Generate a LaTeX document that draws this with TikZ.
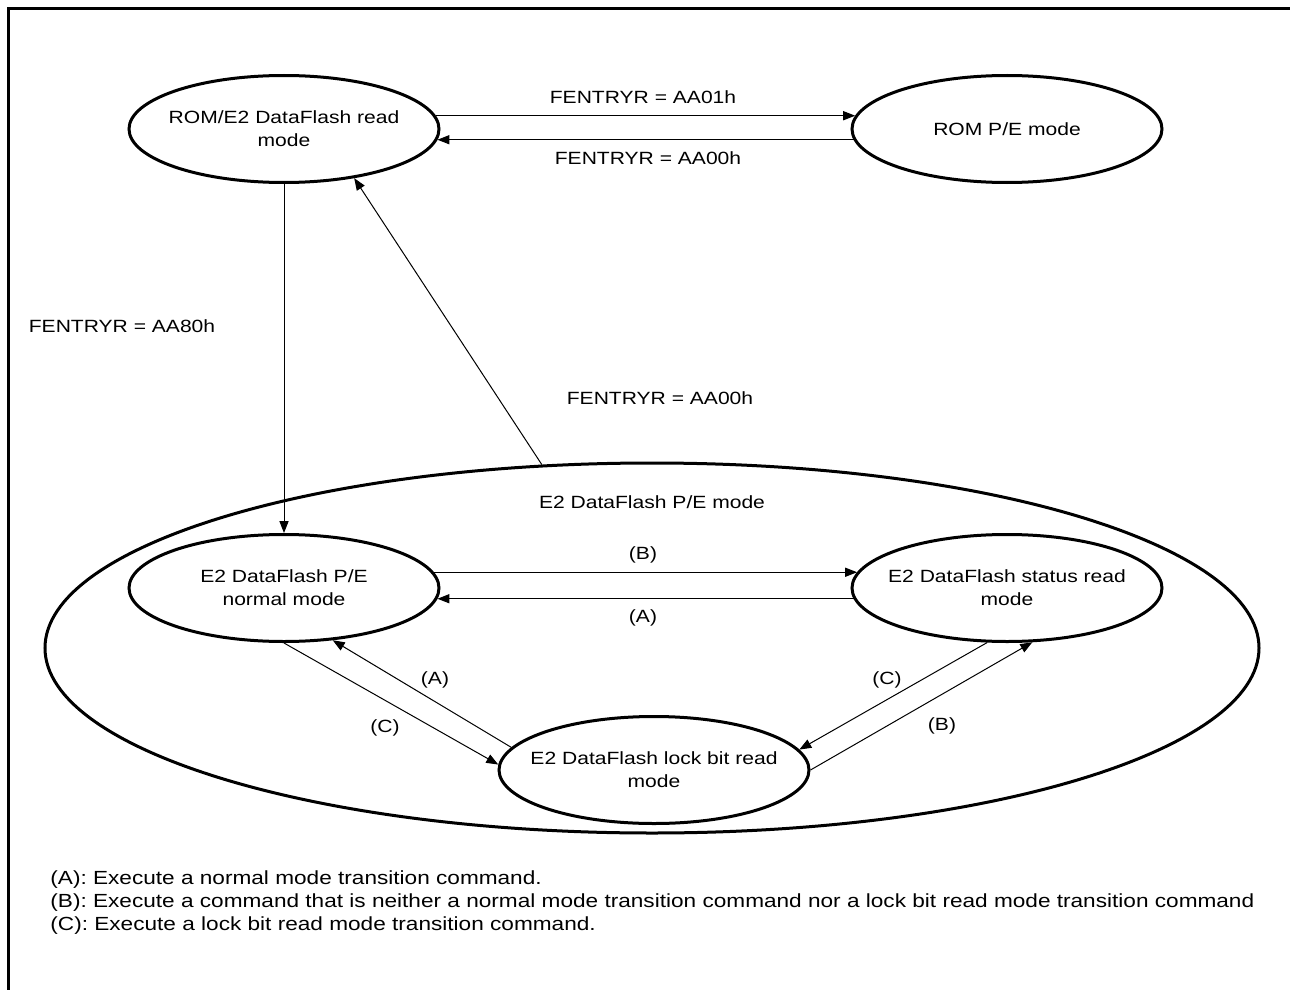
\documentclass[tikz,border=0pt]{standalone}
\usepackage{fontspec}
\setmainfont{Liberation Sans}[FakeStretch=1.19]
\usetikzlibrary{arrows.meta,shapes.geometric}

\begin{document}
\begin{tikzpicture}[x=0.5pt, y=-0.5pt,
  font=\fontsize{8.85}{11.5}\selectfont,
  modebox/.style={ellipse, draw, line width=1.5pt, minimum width=155pt, minimum height=53.5pt,
                  inner xsep=-10pt, inner ysep=2pt, align=center},
  pebox/.style={ellipse, draw, line width=1.5pt, minimum width=607pt, minimum height=185pt},
  lab/.style={inner sep=0pt},
  arr/.style={-{Triangle[length=6pt,width=4.6pt]}, line width=0.5pt}]
\useasboundingbox (0,0) rectangle (1290,990);
\draw[line width=1.5pt] (1300,9) -| (8,1000);
\node[pebox] (pe) at (652,648) {};
\node[lab] (pelab) at (652,502) {E2 DataFlash P/E mode};
\node[modebox] (romrd) at (284,129) {ROM/E2 DataFlash read\\mode};
\node[modebox] (rompe) at (1007,129) {ROM P/E mode};
\node[modebox] (pen) at (284,588) {E2 DataFlash P/E\\normal mode};
\node[modebox] (pes) at (1007,588) {E2 DataFlash status read\\mode};
\node[modebox] (pel) at (654,770) {E2 DataFlash lock bit read\\mode};
\draw[arr] (romrd.5) -- (rompe.175);
\draw[arr] (rompe.-176) -- (romrd.-4);
\draw[arr] (romrd.south) -- (pen.north);
\draw[arr] (pe.121.5) -- (romrd.-35);
\draw[arr] (pen.6) -- (pes.174);
\draw[arr] (pes.-176) -- (pen.-4);
\draw[arr] (pen.south) -- (pel.178);
\draw[arr] (pel.171) -- (pen.-47);
\draw[arr] (pes.-110) -- (pel.8);
\draw[arr] (pel.east) -- (pes.-65);
\node[lab] (l01) at (643,97) {FENTRYR = AA01h};
\node[lab] (l00a) at (648,158) {FENTRYR = AA00h};
\node[lab] (l80) at (122,326) {FENTRYR = AA80h};
\node[lab] (l00b) at (660,398) {FENTRYR = AA00h};
\node[lab] (nb) at (643,555) {(B)};
\node[lab] (na) at (643,618) {(A)};
\node[lab] (la) at (435,680) {(A)};
\node[lab] (lc) at (385,728) {(C)};
\node[lab] (rc) at (887,680) {(C)};
\node[lab] (rb) at (942,726) {(B)};
\node[lab, anchor=west, align=left, font=\fontsize{9.5}{11.5}\selectfont] (legend) at (50,903)
  {(A): Execute a normal mode transition command.\\
   (B): Execute a command that is neither a normal mode transition command nor a lock bit read mode transition command\\
   (C): Execute a lock bit read mode transition command.};
\end{tikzpicture}
\end{document}
